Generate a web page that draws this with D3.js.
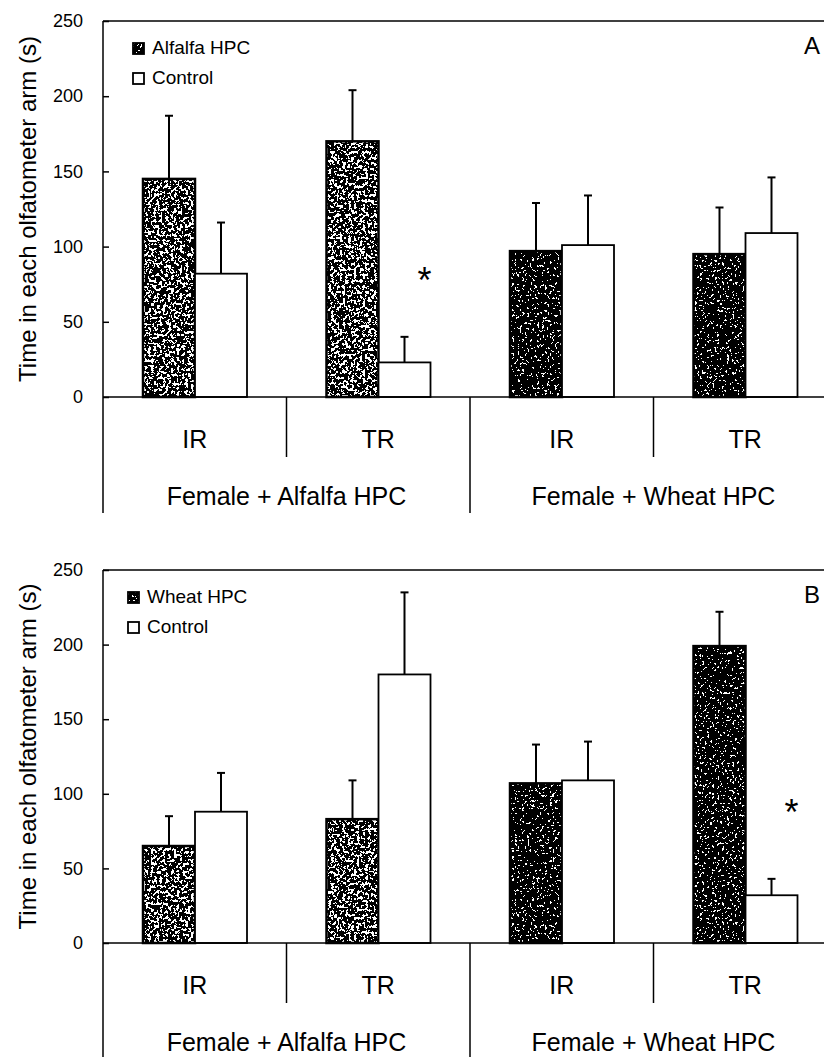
<!DOCTYPE html>
<html>
<head>
<meta charset="utf-8">
<script src="https://cdn.jsdelivr.net/npm/d3@7"></script>
<style>
  body { margin: 0; background: #fff; }
  svg text { font-family: "Liberation Sans", Arial, sans-serif; fill: #000; }
</style>
</head>
<body>
<svg id="chart" width="824" height="1057">
  <defs>
    <!-- speckled fills, like the scanned shading of the original -->
    <filter id="texGray" x="0" y="0" width="1" height="1" color-interpolation-filters="sRGB">
      <feTurbulence type="fractalNoise" baseFrequency="0.35" numOctaves="3" seed="4" result="n"/>
      <feColorMatrix in="n" type="matrix" values="1 0 0 0 0  1 0 0 0 0  1 0 0 0 0  0 0 0 0 1" result="g"/>
      <feComponentTransfer in="g" result="t">
        <feFuncR type="discrete" tableValues="0 0 0 0 0 0 0 0 0 0 0 1 1 1 1 1 1 1 1 1"/>
        <feFuncG type="discrete" tableValues="0 0 0 0 0 0 0 0 0 0 0 1 1 1 1 1 1 1 1 1"/>
        <feFuncB type="discrete" tableValues="0 0 0 0 0 0 0 0 0 0 0 1 1 1 1 1 1 1 1 1"/>
      </feComponentTransfer>
      <feComposite in="t" in2="SourceGraphic" operator="in"/>
    </filter>
    <filter id="texDark" x="0" y="0" width="1" height="1" color-interpolation-filters="sRGB">
      <feTurbulence type="fractalNoise" baseFrequency="0.4" numOctaves="3" seed="9" result="n"/>
      <feColorMatrix in="n" type="matrix" values="1 0 0 0 0  1 0 0 0 0  1 0 0 0 0  0 0 0 0 1" result="g"/>
      <feComponentTransfer in="g" result="t">
        <feFuncR type="discrete" tableValues="0 0 0 0 0 0 0 0 0 0 0 0 0 1 1 1 1 1 1 1"/>
        <feFuncG type="discrete" tableValues="0 0 0 0 0 0 0 0 0 0 0 0 0 1 1 1 1 1 1 1"/>
        <feFuncB type="discrete" tableValues="0 0 0 0 0 0 0 0 0 0 0 0 0 1 1 1 1 1 1 1"/>
      </feComponentTransfer>
      <feComposite in="t" in2="SourceGraphic" operator="in"/>
    </filter>
  </defs>
</svg>
<script>
// shared by both panels
var categories = ["IR", "TR", "IR", "TR"]
var groups = ["Female + Alfalfa HPC", "Female + Wheat HPC"]
var yTicks = [0, 50, 100, 150, 200, 250]
var yTitle = "Time in each olfatometer arm (s)"

// panel A
var seriesA = ["Alfalfa HPC", "Control"]
var hpcA = [145, 170, 97, 95]
var hpcErrA = [42, 34, 32, 31]
var controlA = [82, 23, 101, 109]
var controlErrA = [34, 17, 33, 37]
var sigA = [{ cat: 1, at: 83 }]

// panel B
var seriesB = ["Wheat HPC", "Control"]
var hpcB = [65, 83, 107, 199]
var hpcErrB = [20, 26, 26, 23]
var controlB = [88, 180, 109, 32]
var controlErrB = [26, 55, 26, 11]
var sigB = [{ cat: 3, at: 93 }]

var svg = d3.select("#chart")
var groupTex = ["url(#texGray)", "url(#texDark)"]

function drawPanel(p) {
    var axisX = 103
    var x0 = d3.scaleBand().domain(d3.range(categories.length)).range([axisX, 837])
    var x1 = d3.scaleBand().domain(p.series).range([40, 144])
    var y = d3.scaleLinear().domain([0, 250]).range([p.bottom, p.top])
    var g = svg.append("g")

    // y axis, ticks pointing inwards
    var yAxis = g.append("g")
        .attr("transform", `translate(${axisX},0)`)
        .call(d3.axisLeft(y).tickValues(yTicks).tickSize(-6).tickPadding(20))
    yAxis.select(".domain").remove()
    yAxis.selectAll(".tick line").attr("stroke", "#000").attr("stroke-width", 1.5)
    yAxis.selectAll(".tick text")
        .style("font-family", '"Liberation Sans", Arial, sans-serif')
        .style("font-size", "18px")
        .attr("fill", "#000")

    // frame lines
    g.append("line").attr("x1", axisX).attr("x2", 837)
        .attr("y1", y(250)).attr("y2", y(250))
        .attr("stroke", "#000").attr("stroke-width", 1.5)
    g.append("line").attr("x1", axisX).attr("x2", axisX)
        .attr("y1", y(250)).attr("y2", p.end)
        .attr("stroke", "#000").attr("stroke-width", 1.5)

    // bars
    var rows = []
    categories.forEach(function (c, i) {
        rows.push({ cat: i, s: 0, value: p.hpc[i], err: p.hpcErr[i] })
        rows.push({ cat: i, s: 1, value: p.control[i], err: p.controlErr[i] })
    })
    var bx = function (d) { return x0(d.cat) + x1(p.series[d.s]) }
    var bw = x1.bandwidth()

    g.selectAll(".fillBar")
        .data(rows.filter(function (d) { return d.s == 0 }))
        .join("rect")
        .attr("x", bx)
        .attr("y", function (d) { return y(d.value) })
        .attr("width", bw)
        .attr("height", function (d) { return y(0) - y(d.value) })
        .attr("fill", "#000")
        .attr("filter", function (d) { return groupTex[Math.floor(d.cat / 2)] })

    g.selectAll(".outlineBar")
        .data(rows)
        .join("rect")
        .attr("x", bx)
        .attr("y", function (d) { return y(d.value) })
        .attr("width", bw)
        .attr("height", function (d) { return y(0) - y(d.value) })
        .attr("fill", function (d) { return d.s == 0 ? "none" : "#fff" })
        .attr("stroke", "#000")
        .attr("stroke-width", function (d) { return d.s == 0 ? 2.5 : 1.8 })

    // error bars (upper only)
    var eb = g.selectAll(".err").data(rows).join("g")
    eb.append("line")
        .attr("x1", function (d) { return bx(d) + bw / 2 })
        .attr("x2", function (d) { return bx(d) + bw / 2 })
        .attr("y1", function (d) { return y(d.value) })
        .attr("y2", function (d) { return y(d.value + d.err) })
        .attr("stroke", "#000").attr("stroke-width", 2)
    eb.append("line")
        .attr("x1", function (d) { return bx(d) + bw / 2 - 4 })
        .attr("x2", function (d) { return bx(d) + bw / 2 + 4 })
        .attr("y1", function (d) { return y(d.value + d.err) })
        .attr("y2", function (d) { return y(d.value + d.err) })
        .attr("stroke", "#000").attr("stroke-width", 2)

    // baseline
    g.append("line").attr("x1", axisX).attr("x2", 837)
        .attr("y1", y(0)).attr("y2", y(0))
        .attr("stroke", "#000").attr("stroke-width", 1.5)

    // category table below the axis
    categories.forEach(function (c, i) {
        if (i > 0) {
            g.append("line")
                .attr("x1", x0(i)).attr("x2", x0(i))
                .attr("y1", y(0)).attr("y2", i == 2 ? p.end : y(0) + 60)
                .attr("stroke", "#000").attr("stroke-width", 1.5)
        }
        g.append("text")
            .attr("x", x0(i) + x0.bandwidth() / 2)
            .attr("y", y(0) + 51)
            .attr("text-anchor", "middle")
            .style("font-size", "25px")
            .text(c)
    })
    groups.forEach(function (gr, j) {
        g.append("text")
            .attr("x", x0(j * 2 + 1))
            .attr("y", y(0) + 108)
            .attr("text-anchor", "middle")
            .style("font-size", "25px")
            .text(gr)
    })

    // asterisks
    p.sig.forEach(function (s) {
        g.append("text")
            .attr("x", x0(s.cat) + x1(p.series[1]) + bw / 2 + 20)
            .attr("y", y(s.at) + 21)
            .attr("text-anchor", "middle")
            .style("font-size", "36px")
            .text("*")
    })

    // y title
    g.append("text")
        .attr("transform", `translate(36,${(p.top + p.bottom) / 2}) rotate(-90)`)
        .attr("text-anchor", "middle")
        .style("font-size", "24px")
        .text(yTitle)

    // legend
    p.series.forEach(function (s, k) {
        var ly = y(250) + 22 + k * 30
        if (k == 0) {
            g.append("rect").attr("x", p.legendX).attr("y", ly).attr("width", 11).attr("height", 11)
                .attr("fill", "#000").attr("filter", groupTex[1])
        }
        g.append("rect").attr("x", p.legendX).attr("y", ly).attr("width", 11).attr("height", 11)
            .attr("fill", "none").attr("stroke", "#000").attr("stroke-width", 1.8)
        g.append("text")
            .attr("x", p.legendX + 19)
            .attr("y", ly + 11)
            .style("font-size", "19px")
            .text(s)
    })

    // panel letter
    g.append("text")
        .attr("x", 812)
        .attr("y", y(250) + 33)
        .attr("text-anchor", "middle")
        .style("font-size", "24px")
        .text(p.letter)
}

drawPanel({ series: seriesA, hpc: hpcA, hpcErr: hpcErrA, control: controlA, controlErr: controlErrA,
    sig: sigA, top: 21, bottom: 397, end: 513, legendX: 133, letter: "A" })
drawPanel({ series: seriesB, hpc: hpcB, hpcErr: hpcErrB, control: controlB, controlErr: controlErrB,
    sig: sigB, top: 570, bottom: 943, end: 1057, legendX: 128, letter: "B" })
</script>
</body>
</html>
